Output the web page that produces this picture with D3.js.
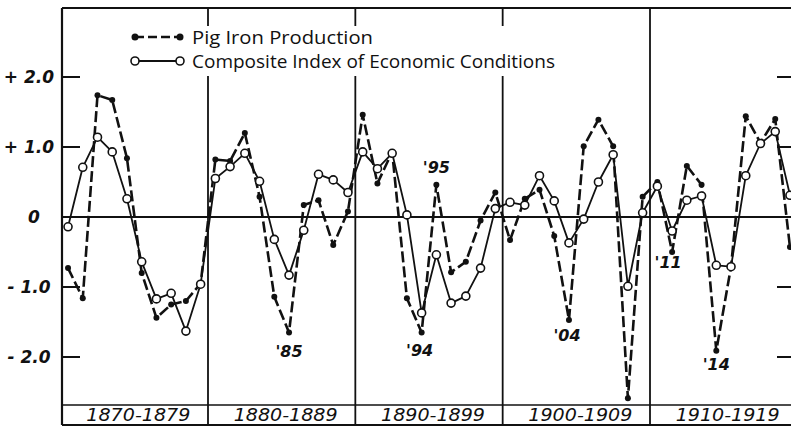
<!DOCTYPE html>
<html><head><meta charset="utf-8">
<script src="https://cdn.jsdelivr.net/npm/d3@7"></script>
<style>body{margin:0;background:#fff}svg{display:block}</style>
</head><body>
<script>
const years = [1870,1871,1872,1873,1874,1875,1876,1877,1878,1879,
  1880,1881,1882,1883,1884,1885,1886,1887,1888,1889,
  1890,1891,1892,1893,1894,1895,1896,1897,1898,1899,
  1900,1901,1902,1903,1904,1905,1906,1907,1908,1909,
  1910,1911,1912,1913,1914,1915,1916,1917,1918,1919];
const pigIron = [-0.73,-1.16,1.74,1.67,0.84,-0.80,-1.44,-1.25,-1.20,-0.95,
  0.82,0.80,1.20,0.29,-1.14,-1.65,0.17,0.24,-0.40,0.08,
  1.46,0.48,0.93,-1.16,-1.65,0.46,-0.79,-0.64,-0.05,0.35,
  -0.33,0.26,0.39,-0.27,-1.47,1.01,1.39,1.01,-2.59,0.29,
  0.50,-0.50,0.73,0.46,-1.91,-0.71,1.44,1.06,1.40,-0.43];
const composite = [-0.14,0.71,1.14,0.93,0.26,-0.64,-1.17,-1.09,-1.63,-0.96,
  0.55,0.72,0.91,0.51,-0.32,-0.83,-0.19,0.61,0.53,0.35,
  0.93,0.69,0.91,0.03,-1.37,-0.54,-1.23,-1.13,-0.73,0.12,
  0.21,0.17,0.59,0.23,-0.37,-0.03,0.50,0.89,-0.99,0.06,
  0.44,-0.20,0.24,0.30,-0.69,-0.71,0.59,1.05,1.22,0.31];
const decades = ["1870-1879","1880-1889","1890-1899","1900-1909","1910-1919"];
const decadeStarts = [1870,1880,1890,1900,1910];
const yTicks = [2,1,0,-1,-2];
const yTickLabels = ["+ 2.0","+ 1.0","0","- 1.0","- 2.0"];
const seriesNames = ["Pig Iron Production","Composite Index of Economic Conditions"];
const annotations = [
  {year:1885, value:-1.65, text:"'85"},
  {year:1894, value:-1.65, text:"'94"},
  {year:1895, value:0.46, text:"'95"},
  {year:1904, value:-1.47, text:"'04"},
  {year:1911, value:-0.50, text:"'11"},
  {year:1914, value:-1.91, text:"'14"}
];

const W = 791, H = 428;
const svg = d3.select("body").append("svg").attr("width", W).attr("height", H);
const x = d3.scaleLinear().domain([1879.5, 1909.5]).range([208, 650]);
const y = d3.scaleLinear().domain([0, 1]).range([217, 147]);
const fLeft = 62, fTop = 8, fRight = 791, bandTop = 405, fBottom = 425;
const ink = "#111";

// frame
svg.append("line").attr("x1", fLeft).attr("x2", fLeft).attr("y1", fTop).attr("y2", fBottom).attr("stroke", ink).attr("stroke-width", 2.2);
svg.append("line").attr("x1", fLeft).attr("x2", fRight).attr("y1", fTop).attr("y2", fTop).attr("stroke", ink).attr("stroke-width", 2);
svg.append("line").attr("x1", fLeft).attr("x2", fRight).attr("y1", bandTop).attr("y2", bandTop).attr("stroke", ink).attr("stroke-width", 1.5);
svg.append("line").attr("x1", fLeft).attr("x2", fRight).attr("y1", fBottom).attr("y2", fBottom).attr("stroke", ink).attr("stroke-width", 2.2);

// decade dividers
decadeStarts.slice(1).forEach(d => {
  svg.append("line").attr("x1", x(d - 0.5)).attr("x2", x(d - 0.5)).attr("y1", fTop).attr("y2", fBottom)
    .attr("stroke", ink).attr("stroke-width", 1.8);
});

// ticks
yTicks.filter(v => v !== 0).forEach(v => {
  svg.append("line").attr("x1", fLeft).attr("x2", fLeft + 18).attr("y1", y(v)).attr("y2", y(v)).attr("stroke", ink).attr("stroke-width", 2);
  svg.append("line").attr("x1", fRight - 14).attr("x2", fRight).attr("y1", y(v)).attr("y2", y(v)).attr("stroke", ink).attr("stroke-width", 2);
});
// zero line
svg.append("line").attr("x1", fLeft).attr("x2", fRight).attr("y1", y(0)).attr("y2", y(0)).attr("stroke", ink).attr("stroke-width", 2);

// y labels
svg.selectAll(".ylab").data(yTicks).enter().append("text")
  .attr("x", (d) => d === 0 ? 34 : 29).attr("y", d => y(d)).attr("dy", "0.36em")
  .attr("text-anchor", "middle")
  .attr("font-family", "DejaVu Sans").attr("font-weight", "bold").attr("font-style", "italic")
  .attr("font-size", 17).attr("fill", ink)
  .text((d, i) => yTickLabels[i]);

// decade labels
svg.selectAll(".dlab").data(decades).enter().append("text")
  .attr("x", (d, i) => x(decadeStarts[i] + 4.5) + 4).attr("y", 421)
  .attr("text-anchor", "middle")
  .attr("font-family", "DejaVu Sans").attr("font-style", "italic")
  .attr("font-size", 18).attr("fill", ink)
  .attr("textLength", 104).attr("lengthAdjust", "spacingAndGlyphs")
  .text(d => d);

// legend background
svg.append("rect").attr("x", 96).attr("y", 26).attr("width", 470).attr("height", 50).attr("fill", "#fff");

const line = d3.line().x((d, i) => x(years[i])).y(d => y(d));

// composite line
svg.append("path").datum(composite).attr("d", line).attr("fill", "none").attr("stroke", ink).attr("stroke-width", 1.8).attr("stroke-linejoin", "round");
// pig iron dashed
svg.append("path").datum(pigIron).attr("d", line).attr("fill", "none").attr("stroke", ink).attr("stroke-width", 2.6)
  .attr("stroke-dasharray", "11,4").attr("stroke-linejoin", "round");

svg.selectAll(".pdot").data(pigIron).enter().append("circle")
  .attr("cx", (d, i) => x(years[i])).attr("cy", d => y(d)).attr("r", 3).attr("fill", ink);
svg.selectAll(".cdot").data(composite).enter().append("circle")
  .attr("cx", (d, i) => x(years[i])).attr("cy", d => y(d)).attr("r", 4).attr("fill", "#fff").attr("stroke", ink).attr("stroke-width", 1.6);

// annotations
const annOffset = {"'85":[0,19], "'94":[-2,18], "'95":[0,-18], "'04":[-2,15], "'11":[-4,10], "'14":[0,14]};
svg.selectAll(".ann").data(annotations).enter().append("text")
  .attr("x", d => x(d.year) + annOffset[d.text][0]).attr("y", d => y(d.value) + annOffset[d.text][1])
  .attr("dy", "0.36em").attr("text-anchor", "middle")
  .attr("font-family", "DejaVu Sans").attr("font-style", "italic").attr("font-weight", "bold")
  .attr("font-size", 16).attr("fill", ink)
  .text(d => d.text);

// legend
const lg = svg.append("g");
const legendLen = [181, 363];
[0, 1].forEach(i => {
  const cy = 37 + i * 24;
  lg.append("line").attr("x1", 135).attr("x2", 180).attr("y1", cy).attr("y2", cy).attr("stroke", ink)
    .attr("stroke-width", i === 0 ? 2.6 : 1.8).attr("stroke-dasharray", i === 0 ? "9,4" : null);
  [135, 180].forEach(cx => {
    if (i === 0) lg.append("circle").attr("cx", cx).attr("cy", cy).attr("r", 3.5).attr("fill", ink);
    else lg.append("circle").attr("cx", cx).attr("cy", cy).attr("r", 4).attr("fill", "#fff").attr("stroke", ink).attr("stroke-width", 1.6);
  });
  lg.append("text").attr("x", 192).attr("y", cy).attr("dy", "0.36em")
    .attr("font-family", "Open Sans").attr("font-size", 19).attr("fill", ink)
    .attr("textLength", legendLen[i]).attr("lengthAdjust", "spacingAndGlyphs")
    .text(seriesNames[i]);
});
</script>
</body></html>
